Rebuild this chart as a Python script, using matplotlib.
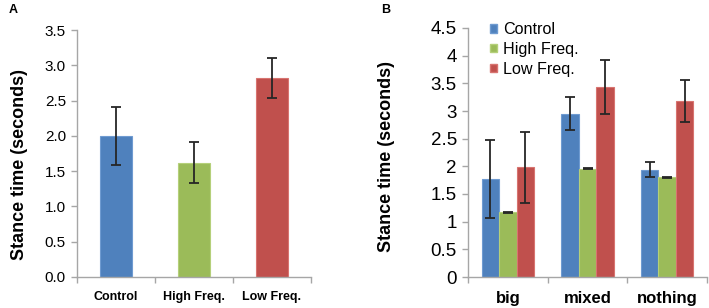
import matplotlib
matplotlib.use("Agg")
import matplotlib.pyplot as plt
import numpy as np
from matplotlib.patches import Patch

plt.rcParams['font.family'] = ['Liberation Sans', 'DejaVu Sans']

# Panel A data
a_categories = ["Control", "High Freq.", "Low Freq."]
a_values = [2.00, 1.62, 2.82]
a_errors = [0.41, 0.29, 0.29]

# Panel B data
b_categories = ["big", "mixed", "nothing"]
b_series = ["Control", "High Freq.", "Low Freq."]
b_control = [1.77, 2.95, 1.94]
b_control_err = [0.71, 0.30, 0.14]
b_high = [1.17, 1.96, 1.80]
b_high_err = [0.01, 0.01, 0.01]
b_low = [1.98, 3.43, 3.18]
b_low_err = [0.64, 0.49, 0.38]

colors = ["#4F81BD", "#9BBB59", "#C0504D"]
edges = ["#6F9BD1", "#B5D07A", "#D87470"]
spine_c = "#A6A6A6"
err_kw = dict(ecolor="#262626", elinewidth=1.3, capsize=3.5, capthick=1.3)

W, H = 709, 308
fig = plt.figure(figsize=(W / 100, H / 100), dpi=100)

def style_axes(ax):
    for s in ["top", "right"]:
        ax.spines[s].set_visible(False)
    for s in ["left", "bottom"]:
        ax.spines[s].set_color(spine_c)
        ax.spines[s].set_linewidth(1.0)
    ax.tick_params(axis="y", direction="out", length=4, color=spine_c, width=1.0, pad=4)
    ax.tick_params(axis="x", which="minor", direction="out", length=4, color=spine_c, width=1.0)
    ax.tick_params(axis="x", which="major", length=0)

# Panel A
axA = fig.add_axes([77 / W, 31 / H, (311 - 77) / W, (277 - 30) / H])
xa = np.arange(len(a_categories))
axA.bar(xa, a_values, width=0.4, color=colors, edgecolor=edges, linewidth=0.8,
        yerr=a_errors, error_kw=err_kw, zorder=2)
axA.set_xlim(-0.5, len(a_categories) - 0.5)
axA.set_ylim(0, 3.5)
ya = np.arange(0, 3.51, 0.5)
axA.set_yticks(ya)
axA.set_yticklabels([f"{v:.1f}" for v in ya], fontsize=11)
axA.set_xticks(xa)
axA.set_xticklabels(a_categories, fontsize=9, fontweight="bold")
axA.set_xticks(np.arange(-0.5, len(a_categories), 1.0), minor=True)
style_axes(axA)
axA.tick_params(axis="x", which="major", pad=10)
fig.text(20 / W, 1 - 165 / H, "Stance time (seconds)", rotation=90, fontsize=13,
         fontweight="bold", ha="center", va="center")
fig.text(13 / W, 1 - 10 / H, "A", fontsize=9, fontweight="bold", ha="center", va="center")

# Panel B
axB = fig.add_axes([468 / W, 31 / H, (707 - 468) / W, (277 - 28) / H])
xb = np.arange(len(b_categories))
bw = 0.22
series = [(b_control, b_control_err), (b_high, b_high_err), (b_low, b_low_err)]
for i, (vals, errs) in enumerate(series):
    axB.bar(xb + (i - 1) * bw, vals, width=bw, color=colors[i], edgecolor=edges[i],
            linewidth=0.8, yerr=errs, error_kw=err_kw, zorder=2, label=b_series[i])
axB.set_xlim(-0.5, len(b_categories) - 0.5)
axB.set_ylim(0, 4.5)
yt = np.arange(0, 4.51, 0.5)
axB.set_yticks(yt)
axB.set_yticklabels([f"{v:g}" for v in yt], fontsize=13.5)
axB.set_xticks(xb)
axB.set_xticklabels(b_categories, fontsize=12, fontweight="bold")
axB.set_xticks(np.arange(-0.5, len(b_categories), 1.0), minor=True)
style_axes(axB)
axB.tick_params(axis="x", which="major", pad=10)
fig.text(386 / W, 1 - 157 / H, "Stance time (seconds)", rotation=90, fontsize=13,
         fontweight="bold", ha="center", va="center")
handles = [Patch(facecolor=colors[i], edgecolor=edges[i]) for i in range(3)]
fig.legend(handles, b_series, loc="upper left", bbox_to_anchor=(490 / W, 1 - 22 / H),
           frameon=False, fontsize=11.6, handlelength=0.45, handleheight=0.45,
           handletextpad=0.35, labelspacing=0.3, borderaxespad=0, borderpad=0)
fig.text(386 / W, 1 - 10 / H, "B", fontsize=9, fontweight="bold", ha="center", va="center")

fig.savefig("out.png", dpi=100)
